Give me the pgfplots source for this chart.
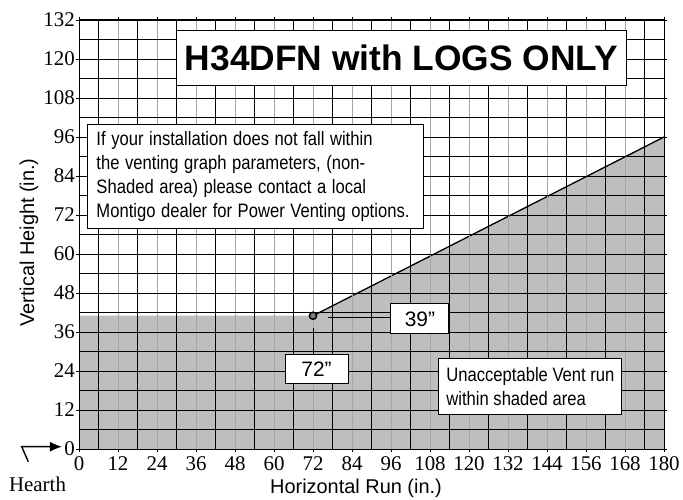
\documentclass[border=0pt]{standalone}
\usepackage{fontspec}
\setmainfont{Liberation Sans}
\newfontfamily\serifnum{Liberation Serif}
\usepackage{graphicx}
\usepackage{pgfplots}
\pgfplotsset{compat=1.18}
\usetikzlibrary{arrows.meta}
\definecolor{shade}{RGB}{190,190,192}
\newcommand{\nar}[1]{\scalebox{0.855}[1]{#1}}
\begin{document}
\begin{tikzpicture}
\begin{axis}[
  at={(0,0)}, anchor=south west,
  scale only axis, width=585bp, height=429bp,
  xmin=0, xmax=180, ymin=0, ymax=132,
  xtick={0,12,...,180}, ytick={0,12,...,132},
  minor tick num=1,
  grid=both,
  major x grid style={gray!70, line width=0.9bp},
  major y grid style={black, line width=0.6bp},
  minor grid style={black, line width=0.6bp},
  axis line style={black, line width=1bp},
  tick align=outside, major tick length=3bp, minor tick length=0pt,
  tick style={black, line width=0.6bp},
  /pgf/number format/assume math mode=true,
  ticklabel style={font=\fontsize{21}{20}\selectfont\serifnum},
  yticklabel style={inner sep=1bp},
  xticklabel style={inner sep=4bp},
  axis on top,
  clip=false,
]
\addplot[fill=shade, draw=none] coordinates {(0,0) (0,41) (72,41) (180,96) (180,0)} -- cycle;
\addplot[black, line width=1.3bp] coordinates {(72,41) (180,96)};
\addplot[only marks, mark=*, mark size=3.6bp, mark options={fill=gray, draw=black, line width=1.5bp}] coordinates {(72,41)};
\coordinate (T) at (axis cs:99.2,120.2);
\coordinate (I) at (axis cs:2.46,100);
\coordinate (B39) at (axis cs:104.9,40);
\coordinate (B72) at (axis cs:73.1,24.6);
\coordinate (U) at (axis cs:138.9,19.1);
\coordinate (H1) at (axis cs:76.5,40.4);
\coordinate (V1) at (axis cs:72,37.2);
\end{axis}
% annotations drawn over the grid
\draw[black, line width=0.9bp] (H1) -- (H1 -| B39);
\draw[black, line width=0.9bp] (V1) -- (V1 |- B72);
\node[draw=black, line width=1bp, fill=white, minimum width=450bp, minimum height=55bp, inner sep=0pt,
  font=\fontsize{35.5}{40}\selectfont\bfseries] at (T) {H34DFN with LOGS ONLY};
\node[draw=black, line width=1bp, fill=white, anchor=north west, inner xsep=9bp, inner ysep=4bp,
  text width=318bp, minimum height=104bp,
  align=left, font=\fontsize{19.5}{24}\selectfont] at (I)
  {\nar{If your installation does not fall within}\\
   \nar{the venting graph parameters, (non-}\\
   \nar{Shaded area) please contact a local}\\
   \nar{Montigo dealer for Power Venting options.}};
\node[draw=black, line width=1bp, fill=white, minimum width=58bp, minimum height=30bp, inner sep=0pt,
  font=\fontsize{21}{24}\selectfont] at (B39) {39”};
\node[draw=black, line width=1bp, fill=white, minimum width=63bp, minimum height=29bp, inner sep=0pt,
  font=\fontsize{21}{24}\selectfont] at (B72) {72”};
\node[draw=black, line width=1bp, fill=white, minimum width=183bp, minimum height=56bp, inner xsep=7bp,
  align=left, font=\fontsize{19.5}{24}\selectfont] at (U)
  {\nar{Unacceptable Vent run}\\ \nar{within shaded area}};
% axis labels
\node[rotate=90, font=\fontsize{20}{24}\selectfont] at (-50bp,206.5bp) {Vertical Height (in.)};
\node[font=\fontsize{20}{24}\selectfont] at (277bp,-39bp) {Horizontal Run (in.)};
% hearth
\draw[black, line width=1.4bp, -{Latex[length=12bp,width=10bp]}] (-50.7bp,-12.7bp) -- (-57.3bp,2.3bp) -- (-17bp,2.3bp);
\node[font=\fontsize{21}{24}\selectfont\serifnum] at (-41.5bp,-35bp) {Hearth};
\pgfresetboundingbox
\path (-79bp,-51bp) rectangle (604bp,449bp);
\end{tikzpicture}
\end{document}
